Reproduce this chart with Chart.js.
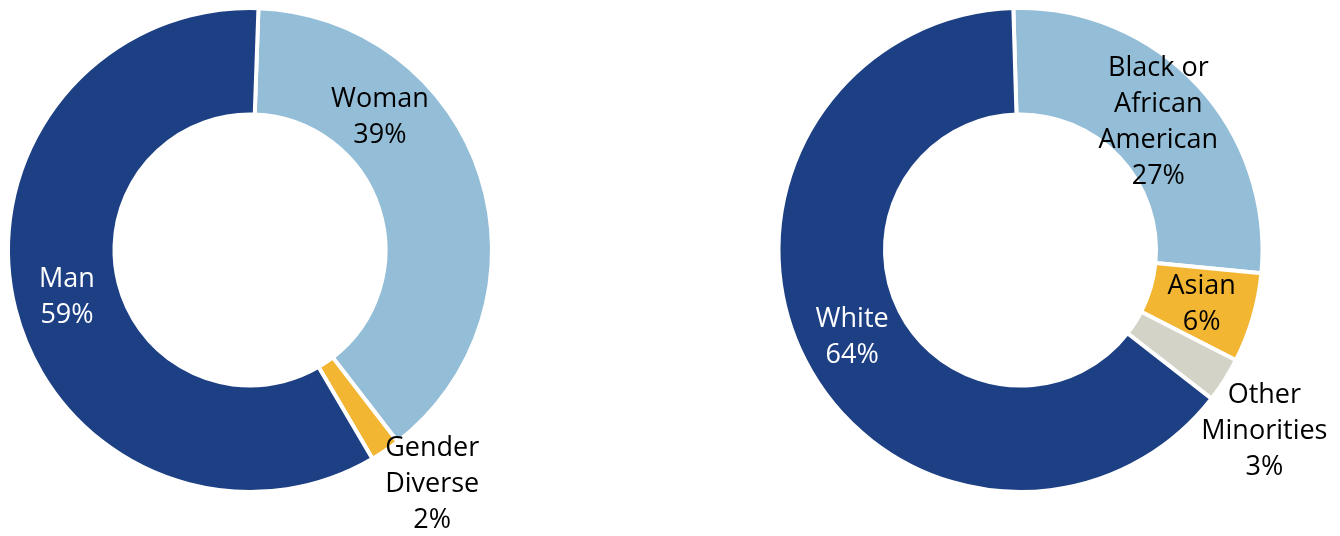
<!DOCTYPE html>
<html>
<head>
<meta charset="utf-8">
<script src="https://cdn.jsdelivr.net/npm/chart.js@4.4.1/dist/chart.umd.min.js"></script>
<style>
    html, body { margin: 0; padding: 0; background: #ffffff; }
    #wrap { position: relative; width: 1340px; height: 536px; }
    .painel { position: absolute; top: 0; width: 670px; height: 536px; }
</style>
</head>
<body>
<div id="wrap">
    <div class="painel" style="left:0"><canvas id="graficoGenero"></canvas></div>
    <div class="painel" style="left:670px"><canvas id="graficoRaca"></canvas></div>
</div>
<script>
    // gender split
    var genderLabels = [['Woman'], ['Gender', 'Diverse'], ['Man']];
    var genderValues = [39, 2, 59];
    var genderColors = ['#94bed8', '#f2b632', '#1d3f83'];

    // race / ethnicity split
    var raceLabels = [['Black or', 'African', 'American'], ['Asian'], ['Other', 'Minorities'], ['White']];
    var raceValues = [27, 6, 3, 64];
    var raceColors = ['#94bed8', '#f2b632', '#d4d3c8', '#1d3f83'];

    var FONTE = '27px "Open Sans", "Noto Sans", sans-serif';
    var ALTURA_LINHA = 36;

    /**
     * Labels inside each slice (or moved out, when a position is given)
     */
    var sliceLabels = {
        id: 'sliceLabels',
        afterDatasetsDraw: function (chart) {
            var ctx = chart.ctx;
            var meta = chart.getDatasetMeta(0);
            var dataset = chart.data.datasets[0];

            ctx.save();
            ctx.font = FONTE;
            ctx.textAlign = 'center';
            ctx.textBaseline = 'middle';

            for (var i = 0; i < meta.data.length; i++) {
                var p = meta.data[i].getProps(['x', 'y', 'startAngle', 'endAngle', 'innerRadius', 'outerRadius'], true);
                var angulo = (p.startAngle + p.endAngle) / 2;
                var raio = (p.innerRadius + p.outerRadius) / 2;
                var pos = dataset.labelPositions[i];

                if (pos) {
                    angulo = pos.angle * Math.PI / 180 - Math.PI / 2;
                    raio = p.outerRadius * pos.radius;
                }

                var linhas = chart.data.labels[i].concat([dataset.data[i] + '%']);
                var cx = p.x + Math.cos(angulo) * raio;
                var cy = p.y + Math.sin(angulo) * raio + 1.5;
                var y0 = cy - (linhas.length - 1) * ALTURA_LINHA / 2;

                ctx.fillStyle = dataset.labelColors[i];
                for (var j = 0; j < linhas.length; j++)
                    ctx.fillText(linhas[j], cx, y0 + j * ALTURA_LINHA);
            }

            ctx.restore();
        }
    };

    var criarGrafico = function (id, labels, values, colors, rotation, padding, positions, textColors) {
        return new Chart(document.getElementById(id), {
            type: 'doughnut',
            data: {
                labels: labels,
                datasets: [{
                    data: values,
                    backgroundColor: colors,
                    hoverBackgroundColor: colors,
                    borderColor: '#ffffff',
                    borderWidth: 4,
                    labelPositions: positions,
                    labelColors: textColors
                }]
            },
            options: {
                responsive: true,
                maintainAspectRatio: false,
                animation: false,
                rotation: rotation,
                cutout: '56%',
                layout: { padding: padding },
                plugins: {
                    legend: { display: false },
                    tooltip: { enabled: false }
                }
            },
            plugins: [sliceLabels]
        });
    };

    criarGrafico('graficoGenero', genderLabels, genderValues, genderColors, 2,
        { left: 6, top: 6, right: 176, bottom: 42 },
        [{ angle: 44, radius: 0.773 }, { angle: 142, radius: 1.223 }, null],
        ['#000000', '#000000', '#ffffff']);

    criarGrafico('graficoRaca', raceLabels, raceValues, raceColors, -1.7,
        { left: 106, top: 6, right: 75, bottom: 42 },
        [null, null, { angle: 126.4, radius: 1.252 }, null],
        ['#000000', '#000000', '#000000', '#ffffff']);
</script>
</body>
</html>
